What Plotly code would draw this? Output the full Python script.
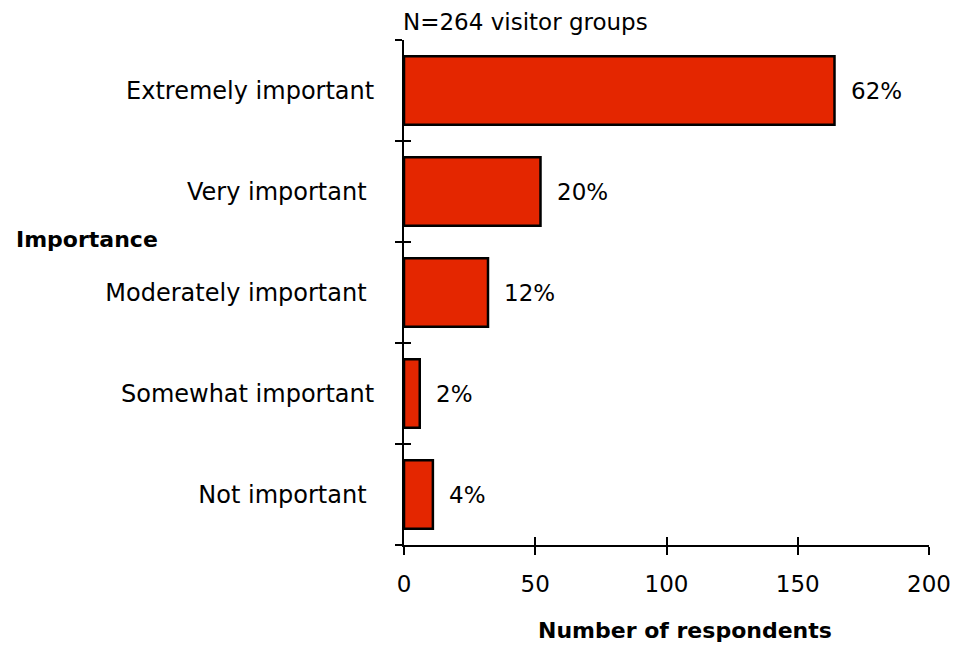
import plotly.graph_objects as go

# Survey responses: importance rating, number of visitor groups and share
categories = ["Not important", "Somewhat important", "Moderately important",
              "Very important", "Extremely important"]
tick_labels = ["Not important ", "Somewhat important", "Moderately important ",
               "Very important ", "Extremely important"]
respondents = [11, 6, 32, 52, 164]
percent_labels = ["4%", "2%", "12%", "20%", "62%"]
x_ticks = [0, 50, 100, 150, 200]

FONT = "DejaVu Sans"
BAR_RED = "#E42600"

fig = go.Figure()

fig.add_trace(go.Bar(
    x=respondents,
    y=categories,
    orientation="h",
    width=0.68,
    marker=dict(color=BAR_RED, line=dict(color="black", width=2.5)),
    hoverinfo="skip",
    showlegend=False,
))

# invisible trace so the overlaid axes (inner tick halves) are drawn
fig.add_trace(go.Scatter(
    x=respondents, y=categories, xaxis="x2", yaxis="y2",
    mode="markers", marker=dict(opacity=0), hoverinfo="skip", showlegend=False,
))

# percentage labels next to each bar
for cat, val, pct in zip(categories, respondents, percent_labels):
    fig.add_annotation(
        x=val, y=cat, text=pct, showarrow=False,
        xanchor="left", xshift=14,
        font=dict(family=FONT, size=23, color="black"),
    )

fig.add_annotation(
    xref="paper", yref="paper", x=0, y=1, yanchor="bottom", xanchor="left",
    yshift=3, xshift=-3, text="N=264 visitor groups", showarrow=False,
    font=dict(family=FONT, size=23, color="black"),
)
fig.add_annotation(
    xref="paper", yref="paper", x=-0.743, y=0.604, xanchor="left", yanchor="middle",
    text="<b>Importance</b>", showarrow=False,
    font=dict(family=FONT, size=22, color="black"),
)
fig.add_annotation(
    xref="paper", yref="paper", x=0.535, y=-0.17, xanchor="center", yanchor="middle",
    text="<b>Number of respondents</b>", showarrow=False,
    font=dict(family=FONT, size=22, color="black"),
)

axis_common = dict(showgrid=False, zeroline=False, tickcolor="black", tickwidth=2)

fig.update_layout(
    width=962, height=648,
    margin=dict(l=404, r=33, t=40, b=103),
    paper_bgcolor="white", plot_bgcolor="white",
    font=dict(family=FONT, size=24, color="black"),
    xaxis=dict(
        range=[0, 200], tickvals=x_ticks, ticks="outside", ticklen=8,
        showline=True, linecolor="black", linewidth=2,
        ticklabelstandoff=9, tickfont=dict(size=23), **axis_common,
    ),
    xaxis2=dict(
        range=[0, 200], tickvals=x_ticks, ticks="inside", ticklen=8,
        overlaying="x", anchor="y", showticklabels=False, showline=False,
        **axis_common,
    ),
    yaxis=dict(
        type="category", categoryorder="array", categoryarray=categories,
        tickvals=categories, ticktext=tick_labels,
        range=[-0.5, 4.5], tickson="boundaries", ticks="outside", ticklen=7,
        showline=True, linecolor="black", linewidth=2,
        ticklabelstandoff=23, tickfont=dict(size=24), **axis_common,
    ),
    yaxis2=dict(
        type="category", categoryorder="array", categoryarray=categories,
        range=[-0.5, 4.5], tickson="boundaries", ticks="inside", ticklen=7,
        overlaying="y", anchor="x", side="left",
        showticklabels=False, showline=False, **axis_common,
    ),
)

fig.write_html("out.html")
